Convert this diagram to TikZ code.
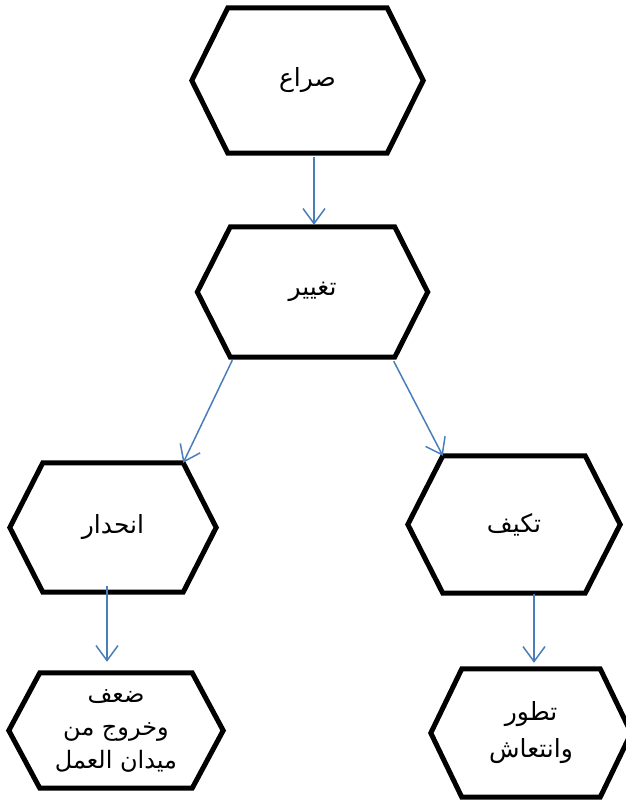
\documentclass[tikz,border=0pt]{standalone}
\usepackage{fontspec}
\newfontfamily\arabicfont[Script=Arabic]{DejaVu Sans}
\TeXXeTstate=1
\usetikzlibrary{arrows.meta}
\definecolor{arrblue}{HTML}{4A7EBB}
\tikzset{
  hexnode/.style={draw=none, inner sep=0pt, font=\arabicfont\fontsize{25}{37}\selectfont, align=center},
  hexline/.style={line width=5pt, line join=miter},
  arr/.style={draw=arrblue, line width=1.5pt, -{Straight Barb[length=15pt,width=22pt,line width=1.5pt]}}
}
\newcommand\hexdraw[2]{%
  \draw[hexline] (#1.north west) -- (#1.north east) -- ([xshift=#2]#1.east) -- (#1.south east) -- (#1.south west) -- ([xshift=-#2]#1.west) -- cycle;}
\begin{document}
\begin{tikzpicture}[x=1pt,y=1pt]
\fill[white] (0,0) rectangle (626,-800);
\useasboundingbox (0,0) rectangle (626,-800);
\clip (0,0) rectangle (626,-800);
\node[hexnode, minimum width=159pt, minimum height=145pt] (s) at (307.5,-80.5) {\beginR صراع\endR};
\node[hexnode, minimum width=164pt, minimum height=130pt] (t) at (312.5,-292) {\beginR تغيير\endR};
\node[hexnode, minimum width=140pt, minimum height=129pt] (a) at (113,-527.5) {\beginR انحدار\endR};
\node[hexnode, minimum width=142pt, minimum height=137pt] (k) at (514,-524.5) {\beginR تكيف\endR};
\node[hexnode, minimum width=152pt, minimum height=115pt, font=\arabicfont\fontsize{24}{33}\selectfont] (w) at (116,-730.5) {\beginR ضعف\endR\\\beginR وخروج من\endR\\\beginR ميدان العمل\endR};
\node[hexnode, minimum width=138pt, minimum height=128pt] (v) at (531,-733) {\beginR تطور\endR\\\beginR وانتعاش\endR};
\hexdraw{s}{36pt}
\hexdraw{t}{33pt}
\hexdraw{a}{33pt}
\hexdraw{k}{35pt}
\hexdraw{w}{31pt}
\hexdraw{v}{31pt}
\draw[arr] ([shift={(6.5pt,-4pt)}]s.south) -- ([shift={(1.5pt,2pt)}]t.north);
\draw[arr] ([shift={(2pt,-3pt)}]t.south west) -- (a.north east);
\draw[arr] ([shift={(-1pt,-4pt)}]t.south east) -- (k.north west);
\draw[arr] ([shift={(-6pt,6pt)}]a.south) -- ([shift={(-9pt,11pt)}]w.north);
\draw[arr] ([shift={(20pt,-1pt)}]k.south) -- ([shift={(3pt,6pt)}]v.north);
\end{tikzpicture}
\end{document}
